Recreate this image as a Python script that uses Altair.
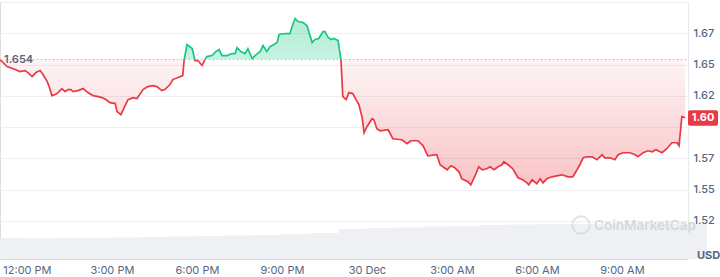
import altair as alt
import pandas as pd
from datetime import datetime, timedelta

# minutes after 2024-12-29 11:00 UTC
minutes = [3, 18, 35, 45, 56, 62, 71, 79, 88, 94, 103, 107, 113, 120, 126, 134, 141, 147, 153, 158,
           168, 179, 189, 200, 211, 219, 227, 236, 247, 251, 259, 274, 285, 293, 306, 316, 327, 335, 346, 352,
           363, 369, 380, 390, 393, 399, 410, 412, 416, 422, 431, 437, 441, 452, 460, 467, 473, 484, 494, 501,
           505, 513, 522, 528, 537, 543, 554, 560, 568, 575, 583, 590, 594, 607, 617, 623, 628, 634, 645, 653,
           664, 670, 678, 687, 691, 698, 704, 710, 719, 725, 729, 736, 742, 750, 757, 763, 770, 774, 780, 791,
           795, 801, 808, 825, 835, 854, 865, 873, 888, 899, 909, 928, 935, 950, 958, 966, 975, 981, 994, 1000,
           1009, 1017, 1024, 1034, 1041, 1049, 1058, 1066, 1070, 1079, 1089, 1100, 1110, 1119, 1123, 1130, 1140, 1147, 1153, 1161,
           1172, 1182, 1193, 1206, 1216, 1225, 1231, 1238, 1246, 1257, 1267, 1278, 1284, 1295, 1305, 1312, 1322, 1337, 1348, 1354,
           1365, 1375, 1384, 1392, 1405, 1415, 1426, 1437, 1441, 1447, 1454]

prices = [1.6540, 1.6484, 1.6460, 1.6444, 1.6452, 1.6436, 1.6404, 1.6436, 1.6452, 1.6420, 1.6364, 1.6324, 1.6252, 1.6260, 1.6276, 1.6308, 1.6284, 1.6300, 1.6300, 1.6284,
          1.6292, 1.6308, 1.6276, 1.6252, 1.6244, 1.6236, 1.6220, 1.6196, 1.6188, 1.6124, 1.6100, 1.6220, 1.6236, 1.6228, 1.6300, 1.6324, 1.6332, 1.6324, 1.6292, 1.6300,
          1.6340, 1.6380, 1.6396, 1.6412, 1.6540, 1.6660, 1.6628, 1.6596, 1.6532, 1.6532, 1.6492, 1.6540, 1.6564, 1.6572, 1.6604, 1.6620, 1.6572, 1.6572, 1.6588, 1.6588,
          1.6636, 1.6604, 1.6588, 1.6628, 1.6548, 1.6572, 1.6604, 1.6652, 1.6604, 1.6644, 1.6660, 1.6676, 1.6740, 1.6748, 1.6748, 1.6820, 1.6868, 1.6844, 1.6836, 1.6812,
          1.6676, 1.6700, 1.6708, 1.6764, 1.6764, 1.6716, 1.6700, 1.6708, 1.6692, 1.6540, 1.6244, 1.6220, 1.6276, 1.6268, 1.6220, 1.6180, 1.6076, 1.5955, 1.6003, 1.6067,
          1.6059, 1.5987, 1.5971, 1.5979, 1.5907, 1.5899, 1.5867, 1.5891, 1.5891, 1.5851, 1.5771, 1.5779, 1.5699, 1.5659, 1.5691, 1.5675, 1.5643, 1.5587, 1.5563, 1.5539,
          1.5611, 1.5683, 1.5659, 1.5667, 1.5683, 1.5659, 1.5683, 1.5699, 1.5723, 1.5699, 1.5667, 1.5595, 1.5579, 1.5555, 1.5539, 1.5579, 1.5547, 1.5587, 1.5555, 1.5587,
          1.5603, 1.5611, 1.5619, 1.5603, 1.5603, 1.5659, 1.5699, 1.5755, 1.5763, 1.5763, 1.5739, 1.5779, 1.5755, 1.5755, 1.5739, 1.5779, 1.5795, 1.5795, 1.5779, 1.5763,
          1.5795, 1.5811, 1.5803, 1.5819, 1.5795, 1.5827, 1.5875, 1.5875, 1.5851, 1.6083, 1.6075]

# hourly volume (relative units), hours after 2024-12-29 11:00 UTC
vol_hours = list(range(0, 26))
volumes = [21, 20.5, 21, 21, 21.5, 22, 22.5, 23, 23.5, 24, 25, 26, 30, 31, 31.5, 32.5, 33, 34, 34.5,
           35, 35, 35, 35, 35, 35, 35]

base_price = 1.654
last_label = "1.60"
y_ticks = [1.525, 1.55, 1.575, 1.60, 1.625, 1.65, 1.675, 1.70]

t0 = datetime(2024, 12, 29, 11, 0)
def iso(dt):
    return dt.strftime("%Y-%m-%dT%H:%M:%SZ")

df = pd.DataFrame({"time": [iso(t0 + timedelta(minutes=m)) for m in minutes],
                   "price": prices})
df["base"] = base_price
vdf = pd.DataFrame({"time": [iso(t0 + timedelta(hours=h)) for h in vol_hours], "vol": volumes})
last = df.tail(1).copy()
last["label"] = last_label
bdf = pd.DataFrame({"base": [base_price], "label": [f"{base_price:.3f}"]})

W, H = 688, 257
RED = "#ea3943"
GREEN = "#16c784"
GRAY = "#58667e"

pmax, pmin = max(prices), min(prices)
off = (pmax - base_price) / (pmax - pmin)

x_dom = [iso(datetime(2024, 12, 29, 11, 3)), iso(datetime(2024, 12, 30, 11, 20))]
xscale = alt.Scale(type="utc", domain=x_dom)
yscale = alt.Scale(domain=[1.4946, 1.70], nice=False, zero=False)

tick_vals = [alt.DateTime(year=2024, month=12, date=29 + (12 + 3 * i) // 24,
                          hours=(12 + 3 * i) % 24, utc=True) for i in range(8)]

x_axis = alt.Axis(values=tick_vals, title=None, grid=False, labelOverlap=False, tickCount=20,
                  labelExpr="utchours(datum.value) == 0 ? utcFormat(datum.value, '%-d %b') : utcFormat(datum.value, '%-I:%M %p')")
y_axis = alt.Axis(orient="right", values=y_ticks, tickCount=len(y_ticks) + 2, title=None, grid=True,
                  labelOverlap=False, gridColor="#eceff3", domainColor="#e6eaef",
                  labelExpr="datum.value > 1.69 || abs(datum.value - 1.6) < 0.001 ? '' : format(floor(datum.value * 100 + 0.001) / 100, '.2f')")

vol = alt.Chart(vdf).mark_area(interpolate="step-after", color="#eef0f4").encode(
    x=alt.X("time:T", scale=xscale),
    y=alt.Y("vol:Q", scale=alt.Scale(domain=[0, H]), axis=None),
)

fill_grad = alt.Gradient(gradient="linear", x1=0, x2=0, y1=0, y2=1, stops=[
    alt.GradientStop(color="rgba(22,199,132,0.33)", offset=0),
    alt.GradientStop(color="rgba(22,199,132,0.24)", offset=off),
    alt.GradientStop(color="rgba(234,57,67,0.05)", offset=off),
    alt.GradientStop(color="rgba(234,57,67,0.30)", offset=1),
])
line_grad = alt.Gradient(gradient="linear", x1=0, x2=0, y1=0, y2=1, stops=[
    alt.GradientStop(color=GREEN, offset=0),
    alt.GradientStop(color=GREEN, offset=off),
    alt.GradientStop(color=RED, offset=off),
    alt.GradientStop(color=RED, offset=1),
])

area = alt.Chart(df).mark_area(fill=fill_grad).encode(
    x=alt.X("time:T", scale=xscale, axis=x_axis),
    y=alt.Y("price:Q", scale=yscale, axis=y_axis),
    y2="base:Q",
)
line = alt.Chart(df).mark_line(stroke=line_grad, strokeWidth=1.7).encode(
    x=alt.X("time:T", scale=xscale),
    y=alt.Y("price:Q", scale=yscale),
)
base_rule = alt.Chart(bdf).mark_rule(color="#a6b0c3", strokeDash=[1, 3], strokeWidth=1).encode(
    y=alt.Y("base:Q", scale=yscale), x=alt.value(29), x2=alt.value(W),
)
base_text = alt.Chart(bdf).mark_text(align="left", baseline="middle", color=GRAY, fontSize=11,
                                     font="Inter", fontWeight=600).encode(
    y=alt.Y("base:Q", scale=yscale), x=alt.value(4), text="label:N",
)
tag = alt.Chart(last).mark_rect(color=RED, cornerRadius=2, yOffset=-7.5, y2Offset=8).encode(
    y=alt.Y("price:Q", scale=yscale), y2="price:Q", x=alt.value(688), x2=alt.value(718),
)
tag_text = alt.Chart(last).mark_text(color="white", fontSize=11, font="Inter", fontWeight=700,
                                     align="center", baseline="middle", dy=0.5).encode(
    y=alt.Y("price:Q", scale=yscale), x=alt.value(703), text="label:N",
)
usd = alt.Chart(bdf).mark_text(text="USD", color=GRAY, fontSize=11, font="Inter", fontWeight=700,
                               align="left", baseline="middle").encode(x=alt.value(697), y=alt.value(254))
logo = alt.Chart(bdf).mark_point(shape="circle", size=300, stroke="#d3d8e0", strokeWidth=2,
                                 filled=False).encode(x=alt.value(581), y=alt.value(223))
logo_text = alt.Chart(bdf).mark_text(text="CoinMarketCap", color="#d3d8e0", fontSize=13.5, font="Inter",
                                     fontWeight=600, align="left", baseline="middle").encode(
    x=alt.value(594), y=alt.value(224))

price_layer = alt.layer(area, line, base_rule, base_text, tag, tag_text)
deco = alt.layer(usd, logo, logo_text)

chart = alt.layer(price_layer, vol, deco).resolve_scale(
    y="independent"
).properties(
    width=W, height=H, autosize=alt.AutoSizeParams(type="none"),
    padding={"left": 0, "top": 2, "right": 32, "bottom": 18},
).configure_view(stroke=None).configure(background="white").configure_axisX(
    domain=False, ticks=False, grid=False, labelColor=GRAY, labelFontSize=11, labelFont="Inter",
    labelPadding=5, labelOverlap=False, labelFlush=False,
).configure_axisY(
    ticks=False, domain=True, grid=True, domainColor="#e6eaef", gridColor="#eceff3", gridWidth=1,
    labelColor=GRAY, labelFontSize=11, labelFont="Inter", labelFontWeight=500, labelPadding=5,
    labelOverlap=False, labelFlush=False,
)

chart.save("out.html", embed_options={"renderer": "svg", "actions": False})
